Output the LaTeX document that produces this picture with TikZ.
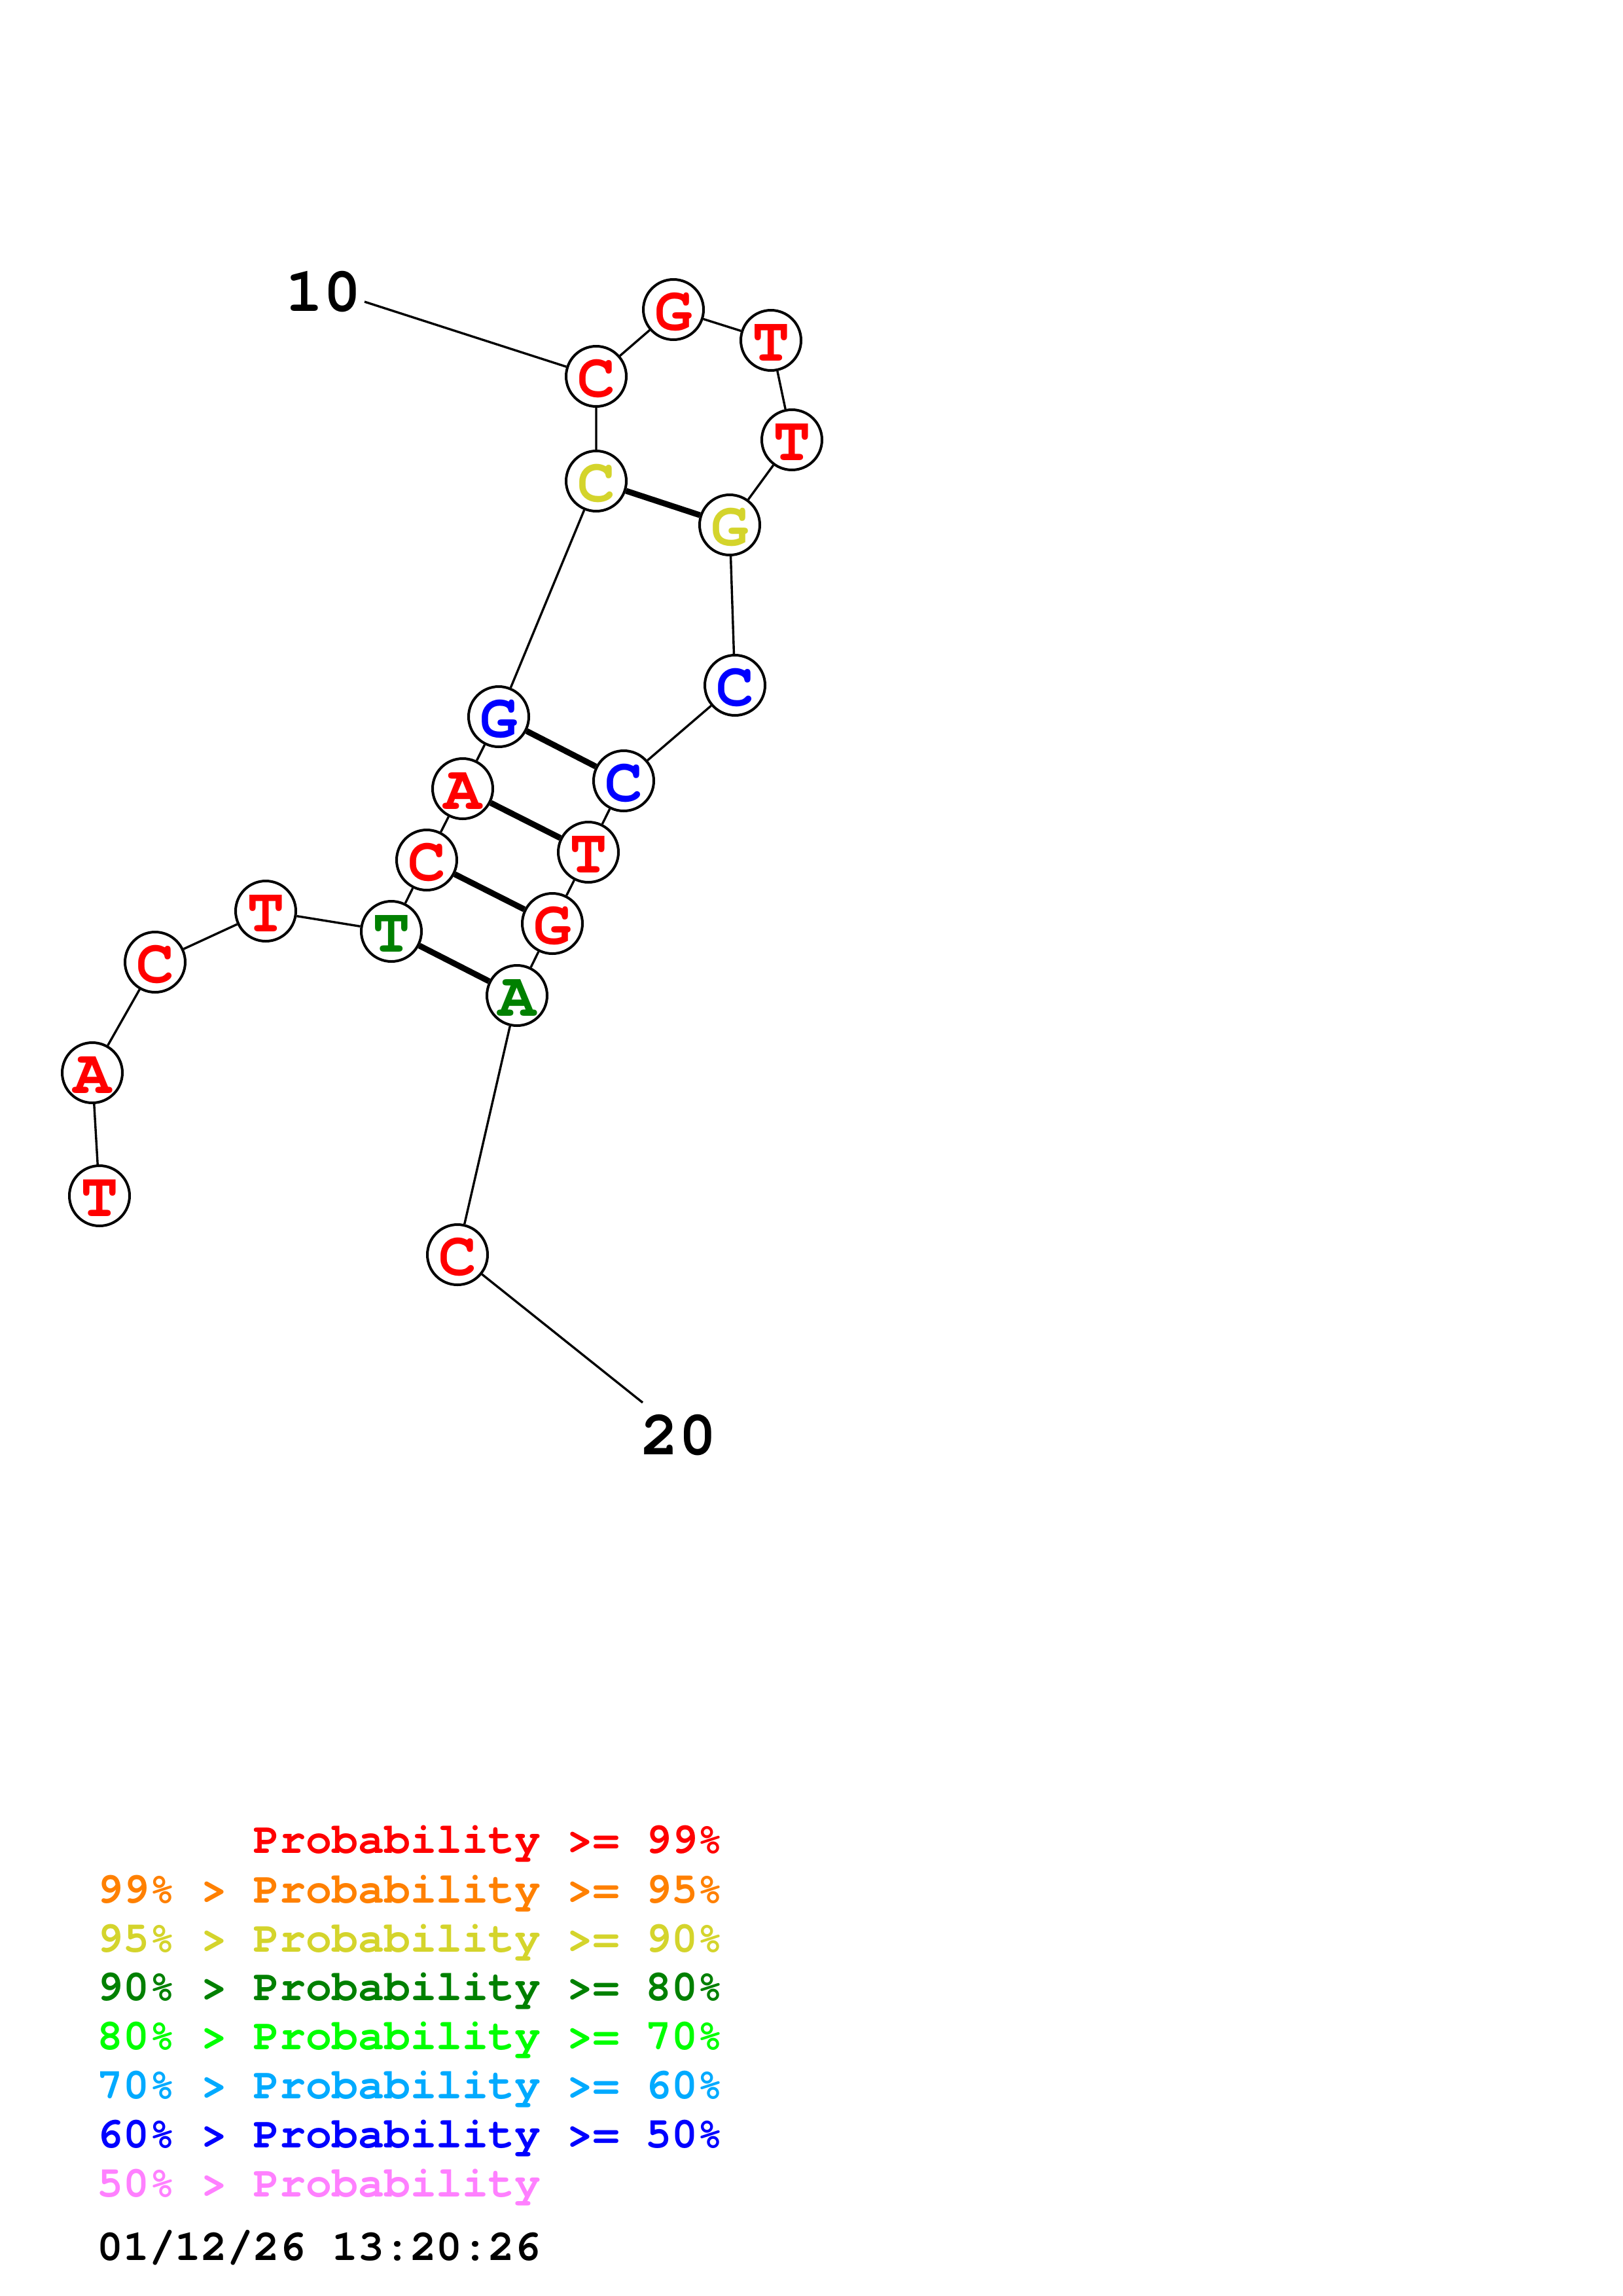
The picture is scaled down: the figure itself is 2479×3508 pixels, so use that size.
\documentclass[tikz,border=0pt]{standalone}
\usepackage{fontspec}
\newfontfamily\cur{TeX Gyre Cursor}
\definecolor{pRed}{RGB}{255,0,0}
\definecolor{pOrange}{RGB}{255,128,0}
\definecolor{pYellow}{RGB}{212,212,44}
\definecolor{pDGreen}{RGB}{0,128,0}
\definecolor{pGreen}{RGB}{0,255,0}
\definecolor{pLBlue}{RGB}{0,170,255}
\definecolor{pBlue}{RGB}{0,0,255}
\definecolor{pPink}{RGB}{255,128,255}
\begin{document}
\begin{tikzpicture}[x=1pt,y=-1pt,
  nt/.style={circle,draw=black,line width=4pt,fill=white,minimum size=92pt,inner sep=0pt,
    font=\cur\bfseries\fontsize{96}{96}\selectfont,text height=62pt,text depth=0pt},
  bb/.style={line width=3.4pt},
  bp/.style={line width=9pt},
  num/.style={anchor=base,inner sep=0pt,font=\cur\bfseries\fontsize{96}{96}\selectfont},
  leg/.style={anchor=base west,inner sep=0pt,font=\cur\bfseries\fontsize{66.5}{66.5}\selectfont}]
\useasboundingbox[fill=white] (0,0) rectangle (2479,3508);
% nucleotides
\node[nt,text=pRed]    (n1)  at (152,1827) {T};
\node[nt,text=pRed]    (n2)  at (141,1639) {A};
\node[nt,text=pRed]    (n3)  at (237,1470) {C};
\node[nt,text=pRed]    (n4)  at (406,1392) {T};
\node[nt,text=pDGreen] (n5)  at (598,1423) {T};
\node[nt,text=pRed]    (n6)  at (652,1314) {C};
\node[nt,text=pRed]    (n7)  at (707,1205) {A};
\node[nt,text=pBlue]   (n8)  at (762,1095) {G};
\node[nt,text=pYellow] (n9)  at (911,735)  {C};
\node[nt,text=pRed]    (n10) at (911,575)  {C};
\node[nt,text=pRed]    (n11) at (1029,473) {G};
\node[nt,text=pRed]    (n12) at (1178,520) {T};
\node[nt,text=pRed]    (n13) at (1210,672) {T};
\node[nt,text=pYellow] (n14) at (1115,802) {G};
\node[nt,text=pBlue]   (n15) at (1123,1047) {C};
\node[nt,text=pBlue]   (n16) at (953,1193) {C};
\node[nt,text=pRed]    (n17) at (899,1302) {T};
\node[nt,text=pRed]    (n18) at (844,1411) {G};
\node[nt,text=pDGreen] (n19) at (790,1521) {A};
\node[nt,text=pRed]    (n20) at (699,1917) {C};
% number labels
\node[num] (l10) at (494,475) {10};
\node[num] (l20) at (1037,2222) {20};
\coordinate (e10) at (557,461);
\coordinate (e20) at (982,2143);
% backbone
\draw[bb] (n1)--(n2) (n2)--(n3) (n3)--(n4) (n4)--(n5) (n5)--(n6) (n6)--(n7) (n7)--(n8)
  (n8)--(n9) (n9)--(n10) (n10)--(n11) (n11)--(n12) (n12)--(n13) (n13)--(n14) (n14)--(n15)
  (n15)--(n16) (n16)--(n17) (n17)--(n18) (n18)--(n19) (n19)--(n20);
\draw[bb] (e10)--(n10);
\draw[bb] (n20)--(e20);
% pairs
\draw[bp] (n5)--(n19) (n6)--(n18) (n7)--(n17) (n8)--(n16) (n9)--(n14);
% legend
\node[leg,text=pRed]    (g1) at (387.4,2831) {Probability >= 99\%};
\node[leg,text=pOrange] (g2) at (148,2907) {99\% > Probability >= 95\%};
\node[leg,text=pYellow] (g3) at (148,2982) {95\% > Probability >= 90\%};
\node[leg,text=pDGreen] (g4) at (148,3056) {90\% > Probability >= 80\%};
\node[leg,text=pGreen]  (g5) at (148,3131) {80\% > Probability >= 70\%};
\node[leg,text=pLBlue]  (g6) at (148,3206) {70\% > Probability >= 60\%};
\node[leg,text=pBlue]   (g7) at (148,3281) {60\% > Probability >= 50\%};
\node[leg,text=pPink]   (g8) at (148,3356) {50\% > Probability};
\node[leg,text=black]   (dt) at (148,3453) {01/12/26 13:20:26};
\end{tikzpicture}
\end{document}
